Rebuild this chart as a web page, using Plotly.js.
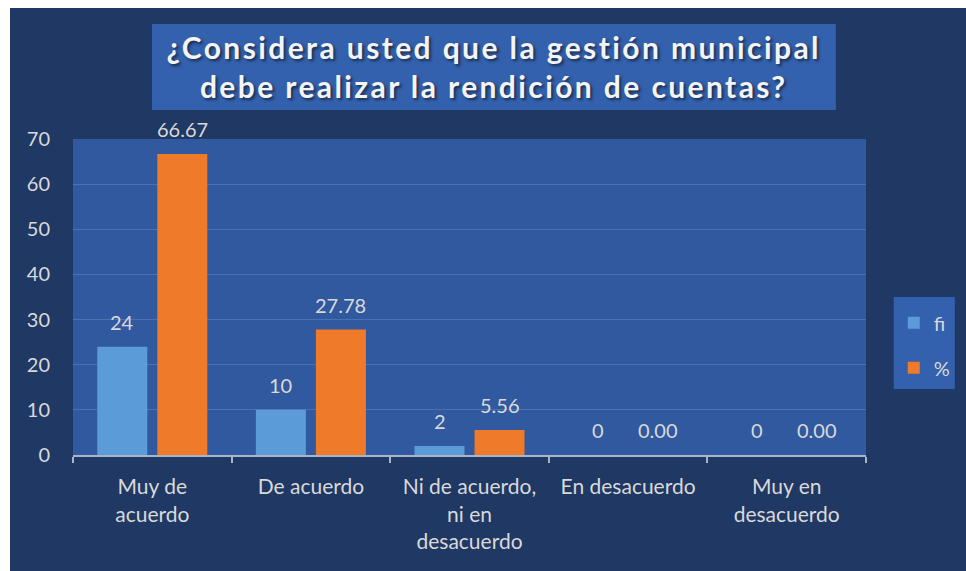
<!DOCTYPE html>
<html>
<head>
<meta charset="utf-8">
<script src="https://cdn.plot.ly/plotly-3.0.1.min.js"></script>
<style>
  html, body { margin: 0; padding: 0; background: #ffffff; }
  #chart { position: absolute; left: 10px; top: 8px; width: 956px; height: 563px; }
  #chart .gtitle { letter-spacing: 2.4px; }
</style>
</head>
<body>
<div id="chart"></div>
<script>
const categories = ["Muy de<br>acuerdo", "De acuerdo", "Ni de acuerdo,<br>ni en<br>desacuerdo", "En desacuerdo", "Muy en<br>desacuerdo"];
const fiValues = [24, 10, 2, 0, 0];
const pctValues = [66.67, 27.78, 5.56, 0.00, 0.00];
const seriesNames = ["fi", "%"];
const titleText = "¿Considera usted que la gestión municipal<br>debe realizar la rendición de cuentas?";

const labelColor = "#d9d9d9";
const fontFam = "Lato, 'Open Sans', sans-serif";

const traces = [
  {
    type: "bar", name: seriesNames[0], x: categories, y: fiValues,
    marker: { color: "#5b9bd8" }, legendgroup: "a", hoverinfo: "x+y"
  },
  {
    type: "bar", name: seriesNames[1], x: categories, y: pctValues,
    marker: { color: "#ee7a2a" }, legendgroup: "b", hoverinfo: "x+y"
  }
];

const annFont = { family: fontFam, size: 20, color: labelColor };
const annotations = [];
categories.forEach((c, i) => {
  annotations.push({ x: c, y: fiValues[i], xref: "x", yref: "y", text: String(fiValues[i]),
    showarrow: false, xshift: -30, yshift: 25, yanchor: "middle", font: annFont });
  annotations.push({ x: c, y: pctValues[i], xref: "x", yref: "y", text: pctValues[i].toFixed(2),
    showarrow: false, xshift: 30, yshift: 25, yanchor: "middle", font: annFont });
});

const layout = {
  width: 956, height: 563,
  paper_bgcolor: "#203864",
  plot_bgcolor: "#30599f",
  margin: { l: 63, r: 100, t: 131, b: 116, autoexpand: false },
  font: { family: fontFam, color: labelColor },
  title: {
    text: titleText,
    xref: "container", x: 0.506, xanchor: "center",
    yref: "container", y: 0.91, yanchor: "middle",
    font: { family: fontFam, size: 30, weight: "bold", color: "#f4f4f4",
            shadow: "2px 2px 3px rgba(0,0,0,0.55)" }
  },
  barmode: "group",
  bargap: 0.243,
  bargroupgap: 0.167,
  xaxis: {
    type: "category",
    showgrid: false,
    showline: true, linecolor: "#a9b4c8", linewidth: 2,
    ticks: "outside", tickson: "boundaries", ticklen: 6, tickcolor: "#a9b4c8", tickwidth: 2,
    tickfont: { family: fontFam, size: 21, color: labelColor },
    ticklabelstandoff: 12,
    fixedrange: true
  },
  yaxis: {
    range: [0, 70], dtick: 10,
    showgrid: true, gridcolor: "rgba(140,170,220,0.3)", gridwidth: 1,
    zeroline: false, showline: false, ticks: "",
    tickfont: { family: fontFam, size: 20, color: labelColor },
    ticklabelstandoff: 22,
    fixedrange: true
  },
  showlegend: true,
  legend: {
    x: 1.035, xanchor: "left", y: 0.48, yanchor: "top",
    bgcolor: "rgba(0,0,0,0)",
    font: { family: fontFam, size: 20, color: labelColor },
    traceorder: "grouped", tracegroupgap: 16,
    itemwidth: 30
  },
  shapes: [
    { type: "rect", xref: "paper", yref: "paper", x0: 0.0996, x1: 0.962, y0: 1.092, y1: 1.364,
      fillcolor: "#3461ad", line: { width: 0 }, layer: "above" },
    { type: "rect", xref: "paper", yref: "paper", x0: 1.035, x1: 1.112, y0: 0.209, y1: 0.5,
      fillcolor: "#3461ad", line: { width: 0 }, layer: "above" }
  ],
  annotations: annotations
};

Plotly.newPlot("chart", traces, layout, { displayModeBar: false, staticPlot: true });
</script>
</body>
</html>
